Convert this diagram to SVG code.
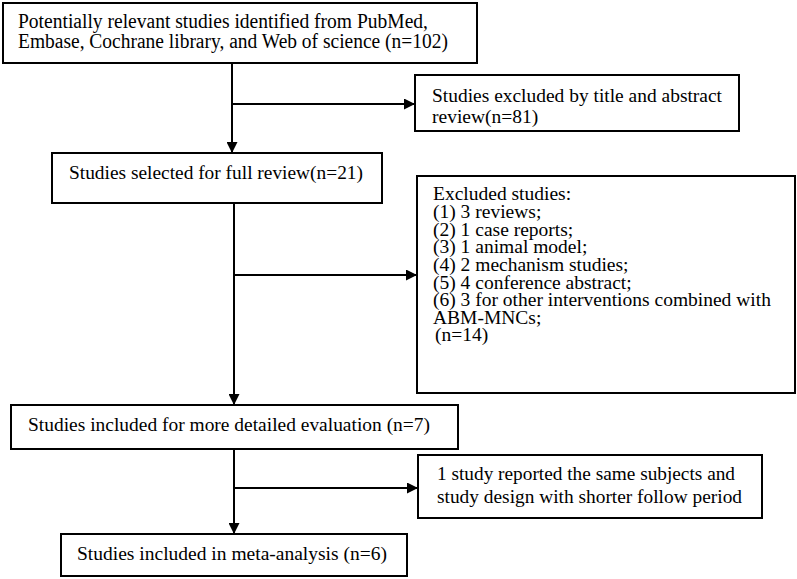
<svg xmlns="http://www.w3.org/2000/svg" width="797" height="579" viewBox="0 0 797 579">
<defs>
<style>
.box{fill:#fff;stroke:#000;stroke-width:2}
.t{font-family:"Liberation Serif","Times New Roman",serif;font-size:19.5px;fill:#000}
.t1{font-size:20px}
.c{fill:none;stroke:#000;stroke-width:2}
</style>
<marker id="ah" viewBox="0 0 10 10" refX="10" refY="5" markerWidth="6" markerHeight="5.5" markerUnits="strokeWidth" orient="auto">
<path d="M0,0 L10,5 L0,10 z" fill="#000"/>
</marker>
</defs>
<rect width="797" height="579" fill="#fff"/>
<g id="connectors">
<path class="c" d="M232,63 V153" marker-end="url(#ah)"/>
<path class="c" d="M232,104 H415" marker-end="url(#ah)"/>
<path class="c" d="M234,203 V405" marker-end="url(#ah)"/>
<path class="c" d="M234,275 H417" marker-end="url(#ah)"/>
<path class="c" d="M234,449 V534" marker-end="url(#ah)"/>
<path class="c" d="M234,488 H418" marker-end="url(#ah)"/>
</g>
<g id="n1">
<rect class="box" x="3" y="3" width="474" height="60"/>
<text class="t t1" x="18" y="28" textLength="410" lengthAdjust="spacingAndGlyphs">Potentially relevant studies identified from PubMed,</text>
<text class="t t1" x="18" y="48" textLength="430" lengthAdjust="spacingAndGlyphs">Embase, Cochrane library, and Web of science (n=102)</text>
</g>
<g id="n2">
<rect class="box" x="415" y="75" width="324" height="56"/>
<text class="t" x="432" y="102" textLength="290" lengthAdjust="spacingAndGlyphs">Studies excluded by title and abstract</text>
<text class="t" x="432" y="123">review(n=81)</text>
</g>
<g id="n3">
<rect class="box" x="52" y="153" width="330" height="50"/>
<text class="t" x="69" y="179" textLength="294" lengthAdjust="spacingAndGlyphs">Studies selected for full review(n=21)</text>
</g>
<g id="n4">
<rect class="box" x="417" y="176" width="378" height="217"/>
<text class="t" x="433" y="200">Excluded studies:</text>
<text class="t" x="433" y="218">(1) 3 reviews;</text>
<text class="t" x="433" y="235.5">(2) 1 case reports;</text>
<text class="t" x="433" y="253">(3) 1 animal model;</text>
<text class="t" x="433" y="271">(4) 2 mechanism studies;</text>
<text class="t" x="433" y="288.5">(5) 4 conference abstract;</text>
<text class="t" x="433" y="306">(6) 3 for other interventions combined with</text>
<text class="t" x="433" y="323.5">ABM-MNCs;</text>
<text class="t" x="435" y="341">(n=14)</text>
</g>
<g id="n5">
<rect class="box" x="11" y="405" width="447" height="44"/>
<text class="t" x="28" y="431" textLength="402" lengthAdjust="spacingAndGlyphs">Studies included for more detailed evaluation (n=7)</text>
</g>
<g id="n6">
<rect class="box" x="418" y="455" width="344" height="63"/>
<text class="t" x="437" y="480" textLength="298" lengthAdjust="spacingAndGlyphs">1 study reported the same subjects and</text>
<text class="t" x="437" y="503" textLength="305" lengthAdjust="spacingAndGlyphs">study design with shorter follow period</text>
</g>
<g id="n7">
<rect class="box" x="61" y="534" width="346" height="42"/>
<text class="t" x="77" y="560" textLength="310" lengthAdjust="spacingAndGlyphs">Studies included in meta-analysis (n=6)</text>
</g>
</svg>
